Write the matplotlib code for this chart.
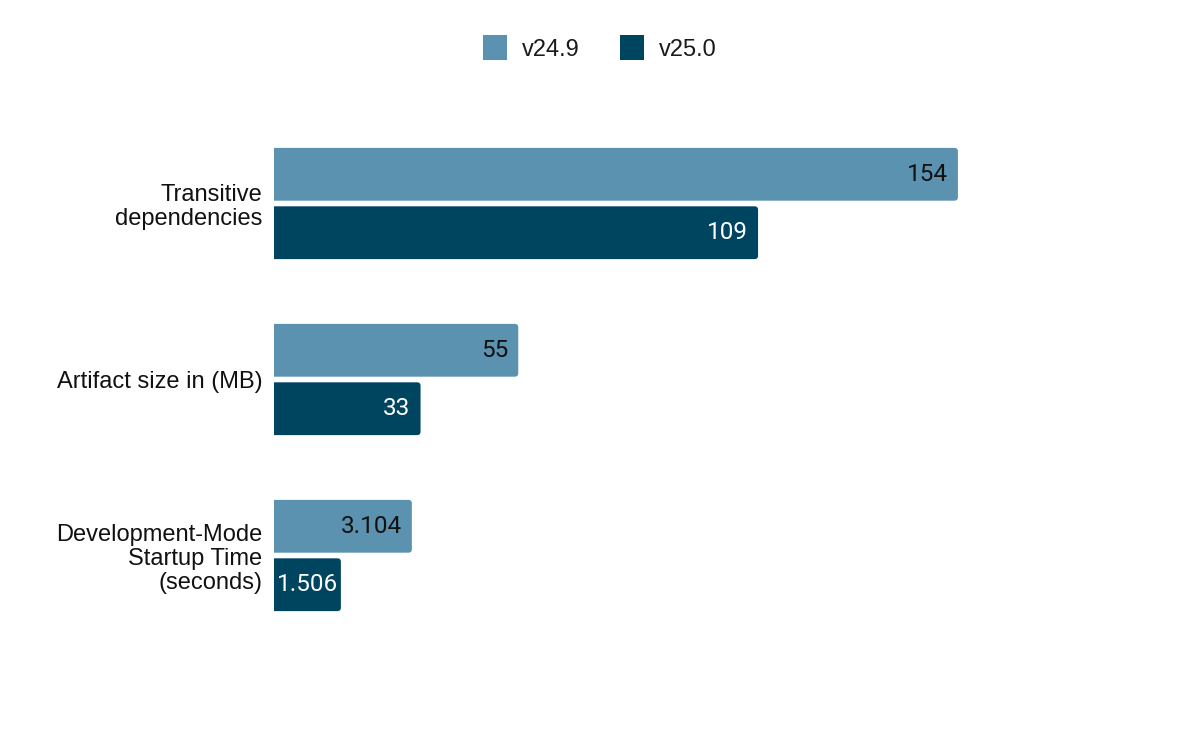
import matplotlib.pyplot as plt
from matplotlib.patches import FancyBboxPatch, Patch

# data
categories = ["Transitive\ndependencies", "Artifact size in (MB)",
              "Development-Mode\nStartup Time\n(seconds)"]
old_vals = [154, 55, 31.04]
new_vals = [109, 33, 15.06]
old_labels = ["154", "55", "3.104"]
new_labels = ["109", "33", "1.506"]
series = ["v24.9", "v25.0"]

light = "#5a92b0"
dark = "#00455f"

fig = plt.figure(figsize=(12, 7.42), dpi=100)
ax = fig.add_axes([274 / 1200, 1 - 678.7 / 742, 866 / 1200, 598.4 / 742])

bh = 0.30
off = 0.166
ypos = list(range(len(categories)))

bars_old = ax.barh([y - off for y in ypos], old_vals, height=bh, color=light)
bars_new = ax.barh([y + off for y in ypos], new_vals, height=bh, color=dark)

ax.set_xlim(0, 195)
ax.set_ylim(2.7, -0.7)

# swap plain bars for ones with rounded right corners
px_x = 866 / 195
px_y = 598.4 / 3.4
r = 3.5 / px_x
for bars in (bars_old, bars_new):
    for b in bars:
        b.set_visible(False)
        x0, y0 = b.get_x(), b.get_y()
        w, h = b.get_width(), b.get_height()
        fb = FancyBboxPatch((x0 - 3, y0), w + 3, h,
                            boxstyle="round,pad=0,rounding_size=%f" % r,
                            mutation_aspect=px_x / px_y,
                            facecolor=b.get_facecolor(), edgecolor="none")
        ax.add_patch(fb)

# value labels inside the bar ends, centred when they don't fit with padding
renderer = fig.canvas.get_renderer()
pad = 10 / px_x


def put_label(v, y, t, color):
    txt = ax.text(v - pad, y, t, ha="right", va="center", fontsize=17.5,
                  family="Roboto", color=color)
    tw = txt.get_window_extent(renderer).width / px_x
    if tw + 2 * pad > v:
        txt.set_x(v / 2)
        txt.set_ha("center")


for y, v, t in zip(ypos, old_vals, old_labels):
    put_label(v, y - off, t, "#111111")
for y, v, t in zip(ypos, new_vals, new_labels):
    put_label(v, y + off, t, "white")

ax.set_yticks(ypos)
ax.set_yticklabels(categories, fontsize=17, family="Liberation Sans",
                   linespacing=1.1, color="#111111")
ax.tick_params(axis="y", length=0, pad=8.5)
ax.set_xticks([])
for s in ax.spines.values():
    s.set_visible(False)

handles = [Patch(facecolor=light, label=series[0]),
           Patch(facecolor=dark, label=series[1])]
fig.legend(handles=handles, loc="center", bbox_to_anchor=(0.5, 1 - 48 / 742),
           ncol=2, frameon=False, handlelength=1.0, handleheight=1.2,
           handletextpad=0.65, columnspacing=1.7,
           prop={"family": "Liberation Sans", "size": 17})
for t in fig.legends[0].get_texts():
    t.set_color("#1a1a1a")

fig.savefig("out.png", dpi=100, facecolor="white")
